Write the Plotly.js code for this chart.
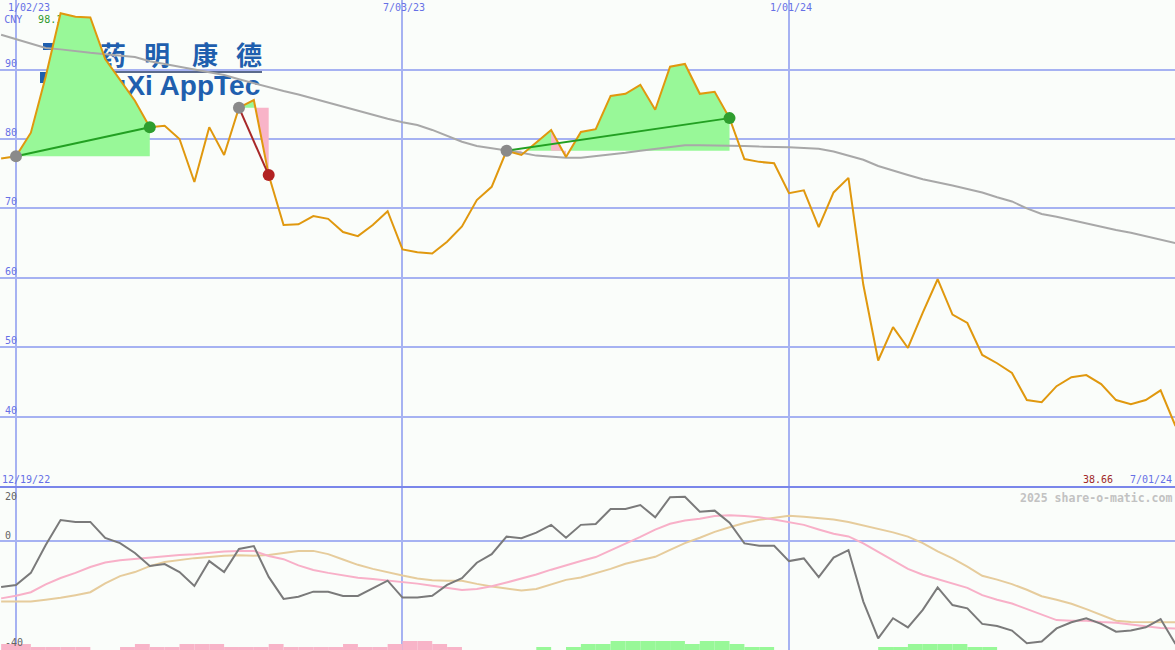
<!DOCTYPE html>
<html>
<head>
<meta charset="utf-8">
<script src="https://cdn.plot.ly/plotly-3.0.1.min.js"></script>
<style>
  html, body { margin: 0; padding: 0; background: #fafdfa; }
  #chart { width: 1175px; height: 650px; }
</style>
</head>
<body>
<div id="chart"></div>
<script>
// Weekly closes, WuXi AppTec (CNY)
const weeks = [
  '2022-12-26','2023-01-02','2023-01-09','2023-01-16','2023-01-23','2023-01-30','2023-02-06','2023-02-13','2023-02-20','2023-02-27',
  '2023-03-06','2023-03-13','2023-03-20','2023-03-27','2023-04-03','2023-04-10','2023-04-17','2023-04-24','2023-05-01','2023-05-08',
  '2023-05-15','2023-05-22','2023-05-29','2023-06-05','2023-06-12','2023-06-19','2023-06-26','2023-07-03','2023-07-10','2023-07-17',
  '2023-07-24','2023-07-31','2023-08-07','2023-08-14','2023-08-21','2023-08-28','2023-09-04','2023-09-11','2023-09-18','2023-09-25',
  '2023-10-02','2023-10-09','2023-10-16','2023-10-23','2023-10-30','2023-11-06','2023-11-13','2023-11-20','2023-11-27','2023-12-04',
  '2023-12-11','2023-12-18','2023-12-25','2024-01-01','2024-01-08','2024-01-15','2024-01-22','2024-01-29','2024-02-05','2024-02-12',
  '2024-02-19','2024-02-26','2024-03-04','2024-03-11','2024-03-18','2024-03-25','2024-04-01','2024-04-08','2024-04-15','2024-04-22',
  '2024-04-29','2024-05-06','2024-05-13','2024-05-20','2024-05-27','2024-06-03','2024-06-10','2024-06-17','2024-06-24','2024-07-01'
];

const price = [
  77.2, 77.5, 80.9, 89.0, 98.1, 97.6, 97.5, 91.5, 88.5, 85.5,
  81.7, 81.9, 80.0, 73.8, 81.7, 77.7, 84.5, 85.6, 74.8, 67.6,
  67.7, 68.9, 68.5, 66.6, 66.0, 67.6, 69.6, 64.1, 63.7, 63.5,
  65.2, 67.4, 71.2, 73.1, 78.3, 77.7, 79.5, 81.3, 77.4, 81.0,
  81.4, 86.2, 86.5, 87.8, 84.2, 90.4, 90.8, 86.5, 86.8, 83.0,
  77.1, 76.7, 76.5, 72.2, 72.6, 67.3, 72.3, 74.4, 59.0, 48.1,
  52.9, 49.9, 55.0, 59.8, 54.7, 53.5, 48.9, 47.7, 46.3, 42.4,
  42.1, 44.4, 45.7, 46.0, 44.7, 42.4, 41.8, 42.4, 43.8, 38.66
];

// long moving average of the close
const avgLine = [
  95.0, 94.4, 93.7, 93.1, 92.9, 92.6, 92.4, 92.2, 92.0, 91.8,
  91.2, 90.8, 90.3, 90.0, 89.6, 89.2, 88.6, 88.0, 87.4, 86.9,
  86.4, 85.8, 85.2, 84.6, 84.0, 83.4, 82.9, 82.4, 82.0, 81.3,
  80.4, 79.6, 79.0, 78.7, 78.3, 78.0, 77.6, 77.4, 77.3, 77.3,
  77.5, 77.7, 78.0, 78.3, 78.6, 78.9, 79.1, 79.1, 79.1, 79.0,
  79.0, 78.9, 78.9, 78.8, 78.7, 78.6, 78.2, 77.6, 77.0, 76.1,
  75.4, 74.8, 74.2, 73.8, 73.3, 72.8, 72.3, 71.6, 71.0, 70.0,
  69.2, 68.8, 68.3, 67.8, 67.4, 66.9, 66.5, 66.0, 65.5, 65.0
];

// lower panel oscillator and its two smoothings
const oscGray = [
  -17.3, -16.5, -12.0, -1.6, 7.7, 7.0, 7.0, 1.0, -0.9, -4.6,
  -9.4, -8.7, -11.7, -16.9, -7.6, -11.7, -3.1, -2.0, -13.5, -21.7,
  -20.9, -19.0, -19.0, -20.6, -20.6, -17.6, -14.9, -21.2, -21.2, -20.5,
  -16.5, -14.0, -8.2, -5.0, 1.5, 0.9, 3.0, 5.9, 1.1, 5.9,
  6.2, 11.8, 11.8, 13.3, 8.7, 16.2, 16.4, 10.8, 11.2, 6.7,
  -1.0, -1.9, -1.9, -7.6, -6.6, -13.6, -6.3, -3.5, -22.7, -36.4,
  -28.9, -32.3, -25.8, -17.4, -24.0, -25.2, -31.0, -31.8, -33.5, -38.2,
  -37.6, -32.7, -30.4, -28.9, -31.0, -33.9, -33.5, -32.3, -29.2, -38.5
];
const oscPink = [
  -21.5, -20.5, -19.2, -16.3, -13.9, -12.0, -9.8, -8.1, -7.3, -6.8,
  -6.2, -5.8, -5.3, -5.1, -4.6, -4.0, -3.8, -3.8, -5.7, -6.9,
  -9.2, -10.9, -12.0, -12.8, -13.8, -14.3, -14.8, -15.4, -16.0, -16.8,
  -17.6, -18.4, -18.0, -17.0, -15.6, -14.2, -12.6, -10.8, -9.1, -7.6,
  -6.1, -3.7, -1.1, 1.4, 4.1, 6.3, 7.5, 8.2, 9.2, 9.5,
  9.2, 8.7, 7.9, 7.0, 5.9, 4.2, 2.6, 1.6, -1.0, -4.2,
  -7.5, -10.5, -12.7, -14.3, -15.9, -17.6, -20.3, -22.0, -23.4, -25.5,
  -27.6, -29.6, -29.8, -29.8, -30.3, -30.6, -31.2, -31.9, -32.5, -32.7
];
const oscTan = [
  -22.7, -22.7, -22.7, -22.0, -21.3, -20.3, -19.2, -15.9, -13.2, -11.7,
  -9.5, -7.9, -7.1, -6.5, -6.1, -5.6, -5.4, -5.6, -5.3, -4.5,
  -3.8, -3.8, -5.0, -7.0, -9.0, -10.5, -11.8, -13.0, -14.1, -14.7,
  -14.9, -14.9, -16.1, -17.1, -17.8, -18.6, -18.0, -16.3, -14.6, -13.7,
  -12.2, -10.5, -8.6, -7.2, -6.0, -3.4, -0.9, 1.1, 3.3, 5.0,
  6.6, 7.8, 8.6, 9.3, 8.9, 8.4, 7.9, 7.0, 5.7, 4.4,
  3.1, 1.5, -0.9, -4.0, -6.6, -9.7, -13.1, -14.5, -16.2, -18.3,
  -20.7, -22.0, -23.5, -25.5, -27.6, -29.8, -30.3, -30.3, -30.3, -30.4
];

// weekly trend score: negative = bearish (pink), positive = bullish (green)
const trendLevel = [
  -2, -2, -1, -1, -1, -1, 0, 0, -1, -2,
  -1, -1, -2, -2, -2, -1, -1, -1, -2, -1,
  -1, -1, -1, -2, -1, -1, -2, -3, -3, -2,
  -1, 0, 0, 0, 0, 0, 1, 0, 1, 2,
  2, 3, 3, 3, 3, 3, 2, 3, 3, 2,
  1, 1, 0, 0, 0, 0, 0, 0, 0, 1,
  1, 2, 2, 2, 2, 1, 1, 0, 0, 0,
  0, 0, 0, 0, 0, 0, 0, 0, 0, 0
];

// trade signals: index of entry week, index of exit week, direction
const signalStart = [1, 16, 34];
const signalEnd   = [10, 18, 49];
const signalUp    = [true, false, true];

const gridDates  = ['2023-01-02', '2023-07-03', '2024-01-01'];
const priceTicks = [40, 50, 60, 70, 80, 90];
const oscTicks   = [20, 0, -40];
const currency   = 'CNY';
const periodStart = '12/19/22';
const logoChars  = ['药', '明', '康', '德'];
const logoName   = 'WuXi AppTec';

// ---------- helpers ----------
const DAY = 86400000;
function ts(d) { const p = d.split('-').map(Number); return Date.UTC(p[0], p[1] - 1, p[2]); }
function iso(t) { return t === null ? null : new Date(t).toISOString().slice(0, 19).replace('T', ' '); }
function shortDate(d) { const p = d.split('-'); return Number(p[1]) + '/' + p[2] + '/' + p[0].slice(2); }
const T = weeks.map(ts);

// colours
const BLUE = '#6670e6', GRID = '#a6b2f2', SEP = '#7a86ea', BG = '#fafdfa';
const ORANGE = '#e0980e', AVG = '#a8a8a8', FILLG = '#98f898', FILLP = '#f8b4c8';
const LOGO = '#1f5fae';
const LABEL_SIZE = 10;

// filled areas for each signal, measured from the entry close
const gX = [], gY = [], pX = [], pY = [];
signalStart.forEach((s, n) => {
  const e = signalEnd[n], base = price[s];
  for (let k = s; k <= e; k++) {
    gX.push(T[k]); gY.push(Math.max(price[k], base));
    if (k < e && (price[k] - base) * (price[k + 1] - base) < 0) {
      const f = (base - price[k]) / (price[k + 1] - price[k]);
      gX.push(T[k] + f * (T[k + 1] - T[k])); gY.push(base);
    }
  }
  gX.push(T[e], T[s], null); gY.push(base, base, null);
  for (let k = s; k < e; k++) {
    if (price[k + 1] < base) {
      pX.push(T[k], T[k + 1], T[k + 1], T[k], null);
      pY.push(price[k], price[k + 1], base, base, null);
    }
  }
});

const traces = [];
const skip = { hoverinfo: 'skip', showlegend: false };

// company logo text (sits under the chart marks)
traces.push(Object.assign({
  type: 'scatter', mode: 'text',
  x: ['2023-02-16 16:00', '2023-03-09 10:00', '2023-04-01 00:00', '2023-04-21 17:00'],
  y: [91.6, 91.6, 91.6, 91.6], text: logoChars.map(c => '<b>' + c + '</b>'), textposition: 'middle center',
  textfont: { family: 'Noto Sans CJK SC', size: 26, color: LOGO }
}, skip));
traces.push(Object.assign({
  type: 'scatter', mode: 'text', x: ['2023-03-16 09:00'], y: [87.3],
  text: ['<b>' + logoName + '</b>'], textposition: 'middle center',
  textfont: { family: 'Liberation Sans', size: 28, color: LOGO }
}, skip));
// currency and period high
traces.push(Object.assign({
  type: 'scatter', mode: 'text', x: ['2022-12-27 12:00', '2023-01-12 10:00'], y: [97.0, 97.0],
  text: [currency, Math.max(...price).toFixed(1)], textposition: 'middle right',
  textfont: { family: 'DejaVu Sans Mono', size: LABEL_SIZE, color: [BLUE, '#2f9a2f'] }
}, skip));

// signal areas
traces.push(Object.assign({
  type: 'scatter', mode: 'lines', x: gX.map(iso), y: gY, fill: 'toself', fillcolor: FILLG,
  line: { width: 0, color: 'rgba(0,0,0,0)' }
}, skip));
traces.push(Object.assign({
  type: 'scatter', mode: 'lines', x: pX.map(iso), y: pY, fill: 'toself', fillcolor: FILLP,
  line: { width: 0, color: 'rgba(0,0,0,0)' }
}, skip));

// moving average and close
traces.push(Object.assign({
  type: 'scatter', mode: 'lines', x: weeks, y: avgLine, line: { color: AVG, width: 2 }
}, skip));
traces.push(Object.assign({
  type: 'scatter', mode: 'lines', x: weeks, y: price, line: { color: ORANGE, width: 2 }
}, skip));

// signal lines and markers
signalStart.forEach((s, n) => {
  const e = signalEnd[n];
  traces.push(Object.assign({
    type: 'scatter', mode: 'lines', x: [weeks[s], weeks[e]], y: [price[s], price[e]],
    line: { color: signalUp[n] ? '#22a022' : '#a82828', width: 2 }
  }, skip));
});
traces.push(Object.assign({
  type: 'scatter', mode: 'markers', x: signalStart.map(i => weeks[i]), y: signalStart.map(i => price[i]),
  marker: { size: 12, color: '#8a8a8a' }
}, skip));
traces.push(Object.assign({
  type: 'scatter', mode: 'markers', x: signalEnd.map(i => weeks[i]), y: signalEnd.map(i => price[i]),
  marker: { size: 12, color: signalUp.map(u => u ? '#2e9e2e' : '#b22222') }
}, skip));

// lower panel
traces.push(Object.assign({
  type: 'scatter', mode: 'lines', x: weeks, y: oscTan, yaxis: 'y2', line: { color: '#e6cc9c', width: 2 }
}, skip));
traces.push(Object.assign({
  type: 'scatter', mode: 'lines', x: weeks, y: oscPink, yaxis: 'y2', line: { color: '#f8b0c8', width: 2 }
}, skip));
traces.push(Object.assign({
  type: 'scatter', mode: 'lines', x: weeks, y: oscGray, yaxis: 'y2', line: { color: '#7a7a7a', width: 2 }
}, skip));
traces.push(Object.assign({
  type: 'bar', x: weeks, y: trendLevel.map(v => v < 0 ? -v : 0), yaxis: 'y3',
  width: 7 * DAY, offset: 0, marker: { color: FILLP, line: { width: 0 } }
}, skip));
traces.push(Object.assign({
  type: 'bar', x: weeks, y: trendLevel.map(v => v > 0 ? v : 0), yaxis: 'y3',
  width: 7 * DAY, offset: 0, marker: { color: FILLG, line: { width: 0 } }
}, skip));

// ---------- layout ----------
const H = 650, SPLIT = 163 / H;
const annotations = [];
gridDates.forEach((d, k) => {
  annotations.push({
    xref: 'x', yref: 'paper', x: d, y: 1, yanchor: 'top',
    xanchor: k === 0 ? 'left' : 'center', xshift: k === 0 ? -10 : 2,
    text: shortDate(d), showarrow: false, font: { color: BLUE }
  });
});
priceTicks.forEach(v => annotations.push({
  xref: 'paper', x: 0, xanchor: 'left', xshift: 3, yref: 'y', y: v, yanchor: 'bottom', yshift: -1,
  text: String(v), showarrow: false, font: { color: BLUE }
}));
oscTicks.forEach(v => annotations.push({
  xref: 'paper', x: 0, xanchor: 'left', xshift: 3, yref: 'y2', y: v,
  yanchor: v === 20 ? 'top' : 'bottom', yshift: v === 20 ? -2 : -2,
  text: String(v), showarrow: false, font: { color: '#646464' }
}));
annotations.push({
  xref: 'paper', yref: 'paper', x: 0, y: SPLIT, xanchor: 'left', yanchor: 'bottom', xshift: 0,
  text: periodStart, showarrow: false, font: { color: BLUE }
});
annotations.push({
  xref: 'paper', yref: 'paper', x: 1, y: SPLIT, xanchor: 'right', yanchor: 'bottom', xshift: -1,
  text: shortDate(weeks[weeks.length - 1]), showarrow: false, font: { color: BLUE }
});
annotations.push({
  xref: 'paper', yref: 'paper', x: 1, y: SPLIT, xanchor: 'right', yanchor: 'bottom', xshift: -60,
  text: price[price.length - 1].toFixed(2), showarrow: false, font: { color: '#a02828' }
});
annotations.push({
  xref: 'paper', yref: 'paper', x: 1, y: SPLIT, xanchor: 'right', yanchor: 'top', xshift: -1, yshift: -2,
  text: '<b>2025 share-o-matic.com</b>', showarrow: false, font: { color: '#c2c2c2', size: 11.5 }
});

const px = v => v / 1175, py = v => 1 - v / H;
const shapes = [
  // logo backdrop, emblem and rule
  { type: 'rect', layer: 'between', xref: 'paper', yref: 'paper', x0: px(33), x1: px(270), y0: py(102), y1: py(38),
    fillcolor: BG, line: { width: 0 } },
  { type: 'rect', layer: 'between', xref: 'paper', yref: 'paper', x0: px(43), x1: px(75), y0: py(50), y1: py(43),
    fillcolor: LOGO, line: { width: 0 } },
  { type: 'rect', layer: 'between', xref: 'paper', yref: 'paper', x0: px(40), x1: px(75), y0: py(83), y1: py(72),
    fillcolor: LOGO, line: { width: 0 } },
  { type: 'line', layer: 'between', xref: 'paper', yref: 'paper', x0: px(60), x1: px(262), y0: py(72), y1: py(72),
    line: { color: '#5a6a8c', width: 2 } },
  // panel separator
  { type: 'line', layer: 'above', xref: 'paper', yref: 'paper', x0: 0, x1: 1, y0: SPLIT, y1: SPLIT,
    line: { color: SEP, width: 2 } }
];

const layout = {
  width: 1175, height: H, autosize: false,
  margin: { l: 0, r: 0, t: 0, b: 0, pad: 0 },
  paper_bgcolor: BG, plot_bgcolor: BG,
  font: { family: 'DejaVu Sans Mono', size: LABEL_SIZE, color: BLUE },
  showlegend: false, hovermode: false, barmode: 'overlay',
  xaxis: {
    type: 'date', range: ['2022-12-25 11:15', '2024-06-30 18:30'],
    tickmode: 'array', tickvals: gridDates, showticklabels: false, ticks: '',
    showgrid: true, gridcolor: GRID, gridwidth: 2, zeroline: false, showline: false, fixedrange: true
  },
  yaxis: {
    domain: [SPLIT, 1], range: [29.88, 100.01], tickmode: 'array', tickvals: priceTicks,
    showticklabels: false, ticks: '', showgrid: true, gridcolor: GRID, gridwidth: 2,
    zeroline: false, showline: false, fixedrange: true
  },
  yaxis2: {
    domain: [0, SPLIT], range: [-40.74, 20.01], tickmode: 'array', tickvals: [0],
    showticklabels: false, ticks: '', showgrid: true, gridcolor: GRID, gridwidth: 2,
    zeroline: false, showline: false, fixedrange: true, anchor: 'x'
  },
  yaxis3: {
    overlaying: 'y2', range: [0, 163 / 3], visible: false, showgrid: false, zeroline: false,
    fixedrange: true, anchor: 'x'
  },
  annotations: annotations,
  shapes: shapes
};

Plotly.newPlot('chart', traces, layout, { staticPlot: true, displayModeBar: false });
</script>
</body>
</html>
